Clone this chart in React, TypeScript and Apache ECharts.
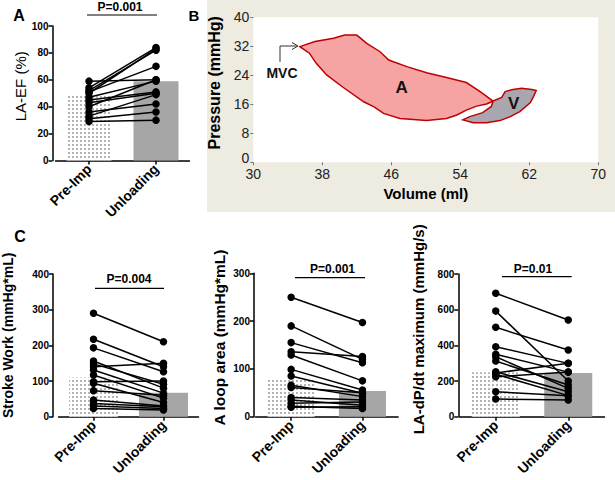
import React, { useEffect, useRef } from 'react';
import * as echarts from 'echarts';

const FONT = 'Liberation Sans, Arial, sans-serif';
const groups = ['Pre-Imp', 'Unloading'];

// Panel A: LA-EF (%)
const efPre = [59, 54, 52, 51, 50, 47, 45, 43, 40, 36, 33, 31, 29];
const efUnl = [60, 84, 82, 70, 83, 59, 51, 50, 60, 42, 49, 36, 30];
const efBars = [48, 59];

// Panel C1: Stroke Work (mmHg*mL)
const swPre = [290, 217, 193, 156, 148, 140, 131, 117, 98, 94, 73, 47, 37, 30, 23];
const swUnl = [210, 140, 126, 80, 91, 150, 66, 52, 100, 40, 60, 30, 28, 23, 19];
const swBars = [110, 67];

// Panel C2: A loop area (mmHg*mL)
const laPre = [250, 190, 155, 136, 129, 99, 85, 66, 61, 40, 35, 28, 22, 20];
const laUnl = [197, 120, 113, 126, 75, 56, 49, 42, 50, 35, 24, 31, 17, 21];
const laBars = [77, 54];

// Panel C3: LA-dP/dt maximum (mmHg/s)
const dpPre = [692, 592, 501, 392, 350, 336, 312, 252, 245, 238, 224, 140, 99];
const dpUnl = [542, 200, 374, 299, 250, 159, 178, 140, 299, 118, 250, 118, 94];
const dpBars = [249, 245];

// Panel B: pressure-volume loops [volume ml, pressure mmHg]
const aLoop = [
  [35.4, 31.9], [37.15, 33.3], [39.3, 34.2], [40.6, 35.1], [42.0, 35.1], [43.15, 32.8],
  [44.7, 30.5], [45.7, 28.2], [47.8, 26.4], [50.1, 24.7], [52.4, 23.4], [54.7, 22.0],
  [56.3, 19.5], [57.8, 16.9], [57.05, 16.1], [55.9, 15.5], [54.7, 14.4], [53.6, 13.05],
  [52.4, 12.1], [50.1, 11.5], [47.0, 12.1], [45.1, 13.5], [44.0, 15.3], [42.8, 16.7],
  [40.4, 20.7], [38.5, 24.1], [37.3, 27.3], [36.5, 30.1],
];
const vLoop = [
  [57.8, 16.9], [58.8, 17.9], [59.2, 19.5], [60.1, 20.1], [61.1, 20.4], [62.3, 20.1],
  [62.8, 19.8], [62.5, 18.2], [62.1, 16.4], [60.9, 14.0], [59.8, 12.6], [58.6, 11.5],
  [57.05, 10.9], [55.5, 10.9], [54.3, 11.7], [55.1, 12.6], [56.6, 13.7], [57.6, 15.4],
];
const loopLabels = [
  { text: 'A', at: [47.2, 20.7] },
  { text: 'V', at: [60.2, 16.3] },
];
const volTicks = { min: 30, max: 70, interval: 8 };
const presTicks = { min: 0, max: 40, interval: 8 };

const dottedStyle = {
  color: '#ffffff',
  decal: {
    symbol: 'rect',
    symbolSize: 1,
    color: '#b4b4b4',
    dashArrayX: [1.2, 1.8],
    dashArrayY: [1.2, 1.8],
    rotation: 0,
  },
};
const solidStyle = { color: '#a6a6a6' };

type Panel = {
  pre: number[];
  unl: number[];
  bars: number[];
  max: number;
  interval: number;
  name: string;
  nameSize: number;
  nameWeight: string;
  nameGap: number;
  nameShift: number;
  grid: { left: number; top: number; width: number; height: number };
  offset: number;
  barWidth: number;
};

const panels: Panel[] = [
  {
    pre: efPre, unl: efUnl, bars: efBars, max: 100, interval: 20,
    name: 'LA-EF (%)', nameSize: 15, nameWeight: 'normal', nameGap: 20, nameShift: 14,
    grid: { left: 55.5, top: 26, width: 134, height: 134.5 }, offset: 3, barWidth: 45,
  },
  {
    pre: swPre, unl: swUnl, bars: swBars, max: 400, interval: 100,
    name: 'Stroke Work (mmHg*mL)', nameSize: 14, nameWeight: 'bold', nameGap: 38, nameShift: 20,
    grid: { left: 58.5, top: 274, width: 140, height: 142.7 }, offset: 5.5, barWidth: 49,
  },
  {
    pre: laPre, unl: laUnl, bars: laBars, max: 300, interval: 100,
    name: 'A loop area (mmHg*mL)', nameSize: 15.5, nameWeight: 'bold', nameGap: 27, nameShift: 15,
    grid: { left: 255.5, top: 273.3, width: 142.6, height: 143.4 }, offset: 1.5, barWidth: 47,
  },
  {
    pre: dpPre, unl: dpUnl, bars: dpBars, max: 800, interval: 200,
    name: 'LA-dP/dt maximum (mmHg/s)', nameSize: 15, nameWeight: 'bold', nameGap: 32, nameShift: 32,
    grid: { left: 459.5, top: 274, width: 145, height: 142.7 }, offset: 1.2, barWidth: 48,
  },
];

const pLabels = [
  { text: 'P=0.001', x: 120, y: 7, lx1: 87, lx2: 157, ly: 15 },
  { text: 'P=0.004', x: 129, y: 279, lx1: 95, lx2: 164, ly: 288.3 },
  { text: 'P=0.001', x: 332.5, y: 269, lx1: 295, lx2: 365, ly: 277.7 },
  { text: 'P=0.01', x: 533, y: 269, lx1: 502, lx2: 571.7, ly: 276.7 },
];

function buildOption() {
  const grids: any[] = [];
  const xAxes: any[] = [];
  const yAxes: any[] = [];
  const series: any[] = [];

  // grid order: 0 = A, 1 = B, 2..4 = C panels
  const panelGridIdx = [0, 2, 3, 4];

  panels.forEach((p, k) => {
    const gi = panelGridIdx[k];
    grids[gi] = { ...p.grid, containLabel: false };
    xAxes[gi] = {
      type: 'category', gridIndex: gi, data: groups, boundaryGap: true,
      axisLine: { show: true, lineStyle: { color: '#000', width: 1.5 } },
      axisTick: { show: true, alignWithLabel: true, length: 4, lineStyle: { color: '#000', width: 1.5 } },
      axisLabel: { interval: 0, rotate: 45, fontWeight: 'bold', fontSize: 14, color: '#000', fontFamily: FONT, margin: 6 },
      splitLine: { show: false },
    };
    yAxes[gi] = {
      type: 'value', gridIndex: gi, min: 0, max: p.max, interval: p.interval, offset: p.offset,
      name: p.name, nameLocation: 'middle', nameGap: p.nameGap, nameRotate: 90,
      nameTextStyle: { fontSize: p.nameSize, fontWeight: p.nameWeight, color: '#000', fontFamily: FONT, padding: [0, 0, 0, p.nameShift] },
      axisLine: { show: true, lineStyle: { color: '#000', width: 1.5 } },
      axisTick: { show: true, length: 4, lineStyle: { color: '#000', width: 1.5 } },
      axisLabel: { fontWeight: 'bold', fontSize: 10, color: '#000', fontFamily: FONT, margin: 4 },
      splitLine: { show: false },
    };
    series.push({
      type: 'bar', xAxisIndex: gi, yAxisIndex: gi, barWidth: p.barWidth, z: 1,
      data: [
        { value: p.bars[0], itemStyle: dottedStyle },
        { value: p.bars[1], itemStyle: solidStyle },
      ],
    });
    p.pre.forEach((v, i) => {
      series.push({
        type: 'line', xAxisIndex: gi, yAxisIndex: gi, z: 3,
        data: [v, p.unl[i]],
        symbol: 'circle', symbolSize: 7.5, showSymbol: true,
        lineStyle: { color: '#000', width: 1.5 },
        itemStyle: { color: '#000' },
      });
    });
  });

  grids[1] = { left: 253.3, top: 17.3, width: 345, height: 145, show: true, backgroundColor: '#ffffff', borderWidth: 0 };
  xAxes[1] = {
    type: 'value', gridIndex: 1, ...volTicks,
    name: 'Volume (ml)', nameLocation: 'middle', nameGap: 24,
    nameTextStyle: { fontSize: 15, fontWeight: 'bold', color: '#000', fontFamily: FONT },
    axisLine: { show: false },
    axisTick: { show: true, length: 3, lineStyle: { color: '#777', width: 1 } },
    axisLabel: { fontSize: 14, color: '#222', fontFamily: FONT, margin: 5 },
    splitLine: { show: false },
  };
  yAxes[1] = {
    type: 'value', gridIndex: 1, ...presTicks,
    name: 'Pressure (mmHg)', nameLocation: 'middle', nameGap: 21, nameRotate: 90,
    nameTextStyle: { fontSize: 16, fontWeight: 'bold', color: '#000', fontFamily: FONT, padding: [0, 0, 0, 14] },
    axisLine: { show: false },
    axisTick: { show: true, length: 3, lineStyle: { color: '#777', width: 1 } },
    axisLabel: {
      fontSize: 14, color: '#222', fontFamily: FONT, margin: 4,
      formatter: (v: number) => (v === 0 ? '{z|0}' : String(v)),
      rich: { z: { fontSize: 14, color: '#222', fontFamily: FONT, padding: [0, 0, 9, 0] } },
    },
    splitLine: { show: false },
  };
  series.push({
    type: 'custom', xAxisIndex: 1, yAxisIndex: 1, z: 2,
    data: [[30, 0]],
    renderItem: (_params: any, api: any) => {
      const pts = (arr: number[][]) => arr.map((q) => api.coord(q));
      const children: any[] = [
        { type: 'polygon', shape: { points: pts(aLoop) }, style: { fill: '#f5a3a3', stroke: '#c00000', lineWidth: 1.5 } },
        { type: 'polygon', shape: { points: pts(vLoop) }, style: { fill: '#aaa6b0', stroke: '#c00000', lineWidth: 1.5 } },
      ];
      loopLabels.forEach((l) => {
        const c = api.coord(l.at);
        children.push({
          type: 'text', x: c[0], y: c[1],
          style: { text: l.text, fill: '#111', fontSize: 17, fontWeight: 'bold', fontFamily: FONT, align: 'center', verticalAlign: 'middle' },
        });
      });
      return { type: 'group', children };
    },
  });

  const graphic: any[] = [
    { type: 'rect', z: -100, silent: true, shape: { x: 207, y: 0, width: 408, height: 212 }, style: { fill: '#eeebe1' } },
    { type: 'text', x: 19, y: 15, style: { text: 'A', fill: '#000', fontSize: 16, fontWeight: 'bold', fontFamily: FONT, align: 'center', verticalAlign: 'middle' } },
    { type: 'text', x: 194, y: 15, style: { text: 'B', fill: '#000', fontSize: 15, fontWeight: 'bold', fontFamily: FONT, align: 'center', verticalAlign: 'middle' } },
    { type: 'text', x: 20, y: 236, style: { text: 'C', fill: '#000', fontSize: 16, fontWeight: 'bold', fontFamily: FONT, align: 'center', verticalAlign: 'middle' } },
    { type: 'polyline', z: 10, shape: { points: [[280, 62], [280, 46], [297, 46]] }, style: { stroke: '#333', lineWidth: 1, fill: 'none' } },
    { type: 'polyline', z: 10, shape: { points: [[292, 42.5], [298, 46], [292, 49.5]] }, style: { stroke: '#333', lineWidth: 1, fill: 'none' } },
    { type: 'text', z: 10, x: 282, y: 73, style: { text: 'MVC', fill: '#111', fontSize: 14, fontWeight: 'bold', fontFamily: FONT, align: 'center', verticalAlign: 'middle' } },
  ];
  pLabels.forEach((p) => {
    graphic.push({ type: 'text', x: p.x, y: p.y, style: { text: p.text, fill: '#000', fontSize: 12, fontWeight: 'bold', fontFamily: FONT, align: 'center', verticalAlign: 'middle' } });
    graphic.push({ type: 'line', shape: { x1: p.lx1, y1: p.ly, x2: p.lx2, y2: p.ly }, style: { stroke: '#000', lineWidth: 1.2 } });
  });

  return {
    animation: false,
    backgroundColor: '#ffffff',
    textStyle: { fontFamily: FONT },
    grid: grids,
    xAxis: xAxes,
    yAxis: yAxes,
    series,
    graphic,
  };
}

export default function App() {
  const ref = useRef<HTMLDivElement>(null);
  useEffect(() => {
    if (!ref.current) return;
    const chart = echarts.init(ref.current, undefined, { renderer: 'svg' });
    chart.setOption(buildOption() as any);
    return () => chart.dispose();
  }, []);
  return <div ref={ref} style={{ position: 'fixed', left: 0, top: 0, width: 615, height: 480 }} />;
}
